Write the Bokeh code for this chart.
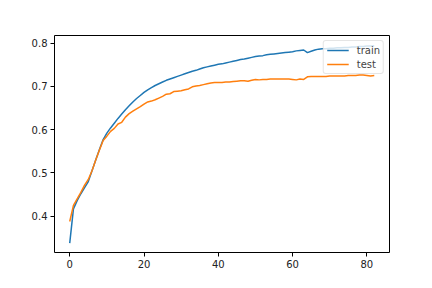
from bokeh.plotting import figure
from bokeh.models import FixedTicker, Range1d, Legend, LegendItem
from bokeh.embed import file_html
from bokeh.resources import INLINE

epochs = list(range(83))
train = [0.338, 0.417, 0.436, 0.452, 0.466, 0.480, 0.505, 0.530, 0.554, 0.577,
         0.592, 0.604, 0.615, 0.626, 0.636, 0.646, 0.655, 0.664, 0.672, 0.679,
         0.686, 0.692, 0.697, 0.702, 0.706, 0.710, 0.714, 0.717, 0.720, 0.723,
         0.726, 0.729, 0.732, 0.735, 0.737, 0.740, 0.743, 0.745, 0.747, 0.749,
         0.751, 0.752, 0.754, 0.756, 0.758, 0.760, 0.762, 0.763, 0.765, 0.767,
         0.769, 0.770, 0.771, 0.773, 0.774, 0.775, 0.776, 0.777, 0.778, 0.779,
         0.780, 0.782, 0.783, 0.784, 0.778, 0.781, 0.784, 0.786, 0.787, 0.787,
         0.788, 0.788, 0.789, 0.789, 0.790, 0.790, 0.791, 0.791, 0.792, 0.792,
         0.793, 0.793, 0.794]
test = [0.388, 0.425, 0.440, 0.455, 0.472, 0.485, 0.505, 0.530, 0.553, 0.575,
        0.585, 0.596, 0.603, 0.613, 0.617, 0.629, 0.637, 0.643, 0.648, 0.653,
        0.659, 0.664, 0.666, 0.669, 0.673, 0.677, 0.682, 0.683, 0.688, 0.689,
        0.690, 0.692, 0.694, 0.699, 0.701, 0.702, 0.704, 0.706, 0.708, 0.709,
        0.709, 0.709, 0.710, 0.710, 0.711, 0.712, 0.713, 0.713, 0.712, 0.714,
        0.716, 0.715, 0.716, 0.716, 0.717, 0.717, 0.717, 0.717, 0.717, 0.717,
        0.716, 0.715, 0.717, 0.716, 0.722, 0.723, 0.723, 0.723, 0.723, 0.723,
        0.724, 0.724, 0.724, 0.724, 0.724, 0.725, 0.725, 0.725, 0.726, 0.726,
        0.725, 0.724, 0.725]
x_ticks = [0, 20, 40, 60, 80]
y_ticks = [0.4, 0.5, 0.6, 0.7, 0.8]
series_names = ["train", "test"]

FONT = "DejaVu Sans"

p = figure(width=432, height=288, output_backend="svg", toolbar_location=None,
           x_range=Range1d(-4.1, 86.1), y_range=Range1d(0.3163, 0.8175),
           min_border_left=54, min_border_right=43, min_border_top=35,
           min_border_bottom=36)
p.background_fill_color = "white"
p.border_fill_color = "white"
p.outline_line_color = "black"
p.outline_line_width = 1
p.xgrid.visible = False
p.ygrid.visible = False

r1 = p.line(epochs, train, line_color="#1f77b4", line_width=1.5)
r2 = p.line(epochs, test, line_color="#ff7f0e", line_width=1.5)

for ax, ticks in ((p.xaxis, x_ticks), (p.yaxis, y_ticks)):
    ax.ticker = FixedTicker(ticks=ticks)
    ax.axis_line_color = None
    ax.major_tick_out = 4
    ax.major_tick_in = 0
    ax.major_tick_line_color = "black"
    ax.minor_tick_line_color = None
    ax.major_label_text_font = FONT
    ax.major_label_text_font_size = "10px"
    ax.major_label_text_color = "#222222"
    ax.major_label_standoff = 3

legend = Legend(items=[LegendItem(label=series_names[0], renderers=[r1]),
                       LegendItem(label=series_names[1], renderers=[r2])],
                location="top_right")
legend.label_text_font = FONT
legend.label_text_font_size = "10px"
legend.glyph_width = 22
legend.glyph_height = 12
legend.label_height = 12
legend.label_standoff = 8
legend.spacing = 2
legend.padding = 3
legend.margin = 5
legend.border_line_color = "#cccccc"
legend.border_radius = 3
legend.background_fill_alpha = 0.8
p.add_layout(legend)

open("out.html", "w").write(file_html(p, INLINE))
